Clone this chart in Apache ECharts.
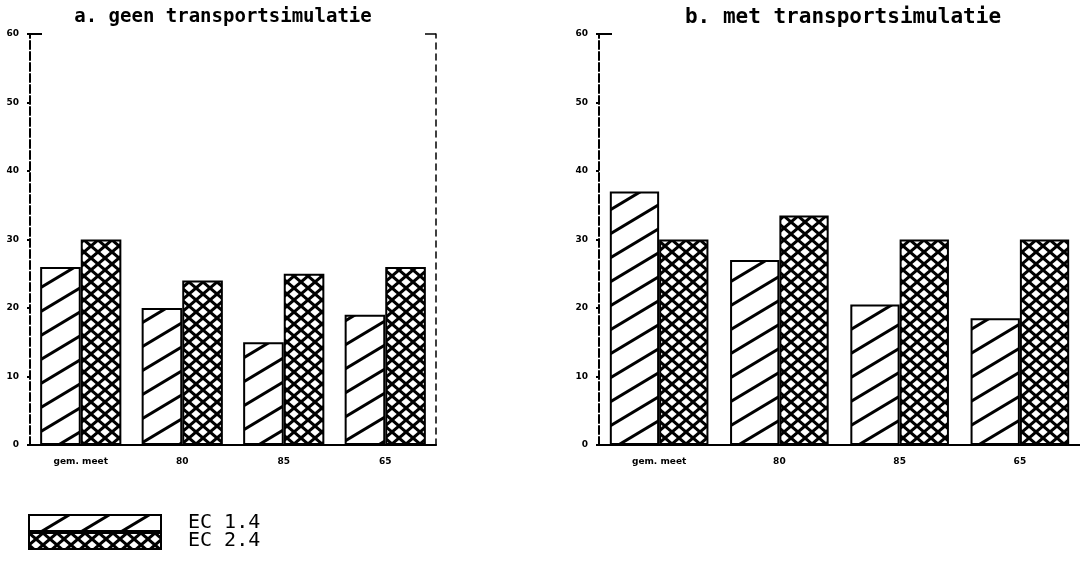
<!DOCTYPE html>
<html><head><meta charset="utf-8">
<script src="https://cdn.jsdelivr.net/npm/echarts@6/dist/echarts.min.js"></script>
<style>html,body{margin:0;padding:0;background:#fff}#c{width:1080px;height:562px}</style>
</head><body><div id="c"></div>
<script>
const categories = ['gem. meet', '80', '85', '65'];
const yTicks = [0, 10, 20, 30, 40, 50, 60];
const seriesNames = ['EC 1.4', 'EC 2.4'];
const geenEC14 = [26, 20, 15, 19];
const geenEC24 = [30, 24, 25, 26];
const metEC14 = [37, 27, 20.5, 18.5];
const metEC24 = [30, 33.5, 30, 30];
const titles = ['a. geen transportsimulatie', 'b. met transportsimulatie'];

function hatch() {
  const c = document.createElement('canvas'); c.width = 40; c.height = 24;
  const g = c.getContext('2d'); g.fillStyle = '#fff'; g.fillRect(0, 0, 40, 24);
  g.strokeStyle = '#000'; g.lineWidth = 3;
  for (let k = -1; k <= 1; k++) { g.beginPath(); g.moveTo(-40, 48 + 24 * k); g.lineTo(80, -24 + 24 * k); g.stroke(); }
  return { image: c, repeat: 'repeat' };
}
function cross() {
  const w = 14, h = 12;
  const c = document.createElement('canvas'); c.width = w; c.height = h;
  const g = c.getContext('2d'); g.fillStyle = '#fff'; g.fillRect(0, 0, w, h);
  g.strokeStyle = '#000'; g.lineWidth = 3;
  for (let k = -1; k <= 1; k++) {
    g.beginPath(); g.moveTo(-w, 2 * h + h * k); g.lineTo(2 * w, -h + h * k); g.stroke();
    g.beginPath(); g.moveTo(-w, -h + h * k); g.lineTo(2 * w, 2 * h + h * k); g.stroke();
  }
  return { image: c, repeat: 'repeat' };
}
const pat1 = hatch(), pat2 = cross();

const chart = echarts.init(document.getElementById('c'));
const mono = 'DejaVu Sans Mono';
function xAx(i) {
  return {
    type: 'category', gridIndex: i, data: categories,
    axisLine: { lineStyle: { color: '#000', width: 2 } },
    axisTick: { alignWithLabel: true, length: 4, lineStyle: { color: '#000', width: 2 } },
    axisLabel: { color: '#000', fontSize: 9, fontWeight: 'bold', margin: 12, fontFamily: 'DejaVu Sans' }
  };
}
function yAx(i) {
  return {
    type: 'value', gridIndex: i, min: yTicks[0], max: yTicks[yTicks.length - 1], interval: 10,
    axisLine: { show: true, lineStyle: { color: '#000', width: 2, type: [8, 3] } },
    axisTick: { show: true, length: 3, lineStyle: { color: '#000', width: 2 } },
    axisLabel: { color: '#000', fontSize: 9, fontWeight: 'bold', margin: 11, fontFamily: 'DejaVu Sans' },
    splitLine: { show: false }
  };
}
function bar(name, data, i, color) {
  return {
    name, type: 'bar', xAxisIndex: i, yAxisIndex: i, data,
    barGap: 0, barCategoryGap: i === 0 ? '20%' : '18%',
    itemStyle: { color, borderColor: '#000', borderWidth: 2 },
    emphasis: { disabled: true }, animation: false
  };
}
const rightBorder = {
  type: 'value', gridIndex: 0, position: 'right', min: 0, max: 60, interval: 10,
  axisLine: { show: true, lineStyle: { color: '#000', width: 1.5, type: [6, 5] } },
  axisTick: { show: false }, axisLabel: { show: false }, splitLine: { show: false }
};
function leg(name, top) {
  return {
    orient: 'vertical', left: 28, top, itemWidth: 132, itemHeight: 16, padding: 0,
    icon: 'rect', data: [name],
    itemStyle: { borderColor: '#000', borderWidth: 2 },
    textStyle: { fontFamily: mono, fontSize: 20, color: '#000', padding: [0, 0, 0, 22] }
  };
}
chart.setOption({
  animation: false,
  title: [
    { text: titles[0], left: 218, top: 3, textAlign: 'center', textStyle: { fontFamily: mono, fontSize: 19, fontWeight: 'bold', color: '#000' } },
    { text: titles[1], left: 838, top: 2, textAlign: 'center', textStyle: { fontFamily: mono, fontSize: 21, fontWeight: 'bold', color: '#000' } }
  ],
  grid: [
    { left: 30, top: 34, width: 406, height: 411 },
    { left: 599, top: 34, width: 488, height: 411 }
  ],
  xAxis: [xAx(0), xAx(1)],
  yAxis: [yAx(0), yAx(1), rightBorder],
  legend: [leg(seriesNames[0], 513), leg(seriesNames[1], 531)],
  series: [
    bar(seriesNames[0], geenEC14, 0, pat1),
    bar(seriesNames[1], geenEC24, 0, pat2),
    bar(seriesNames[0], metEC14, 1, pat1),
    bar(seriesNames[1], metEC24, 1, pat2)
  ],
  graphic: [
    { type: 'line', shape: { x1: 30, y1: 34, x2: 42, y2: 34 }, style: { stroke: '#000', lineWidth: 2 } },
    { type: 'line', shape: { x1: 599, y1: 34, x2: 612, y2: 34 }, style: { stroke: '#000', lineWidth: 2 } },
    { type: 'line', shape: { x1: 425, y1: 34, x2: 436, y2: 34 }, style: { stroke: '#000', lineWidth: 1.5 } }
  ]
});
</script></body></html>
